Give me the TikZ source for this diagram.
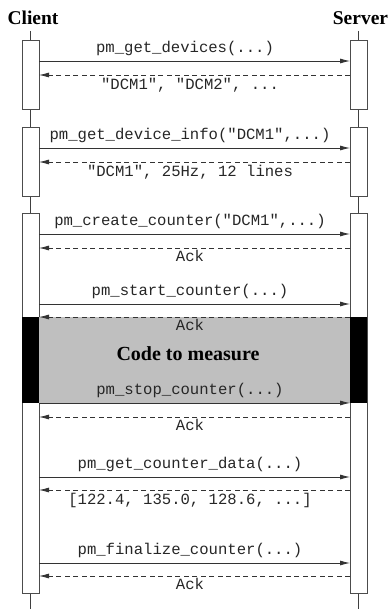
\documentclass[tikz,border=0pt]{standalone}
\usepackage{fontspec}
\setmainfont{Liberation Serif}
\newfontfamily\lblfont{Liberation Mono}
\usetikzlibrary{arrows.meta,calc}
\begin{document}
\begin{tikzpicture}[x=1pt,y=1pt,
  actor/.style={font=\fontsize{19.5}{22}\selectfont\bfseries, inner sep=0pt},
  lifeline/.style={line width=0.8pt, draw=black!75},
  actbox/.style={draw=black!70, line width=0.9pt, fill=white, inner sep=0pt, outer sep=0pt, minimum width=17pt},
  call/.style={line width=0.8pt, draw=black!80, -{Latex[length=10pt,width=5pt]}},
  reply/.style={line width=0.8pt, draw=black!80, dash pattern=on 5pt off 3.5pt, -{Latex[length=10pt,width=5pt]}},
  msglbl/.style={font=\lblfont\fontsize{15.6}{18}\selectfont, text=black!85, inner sep=0pt, anchor=base},
  codelbl/.style={font=\fontsize{20}{24}\selectfont\bfseries, inner sep=0pt, anchor=base}
]
\useasboundingbox (0,0) rectangle (389,-609);

% actors
\node[actor, anchor=base] (client) at (33,-24.3) {Client};
\node[actor, anchor=base] (server) at (360.5,-24.3) {Server};

% lifelines
\coordinate (cl0) at (30.5,-31);
\coordinate (cl1) at (30.5,-609);
\coordinate (sl0) at (358.5,-31);
\coordinate (sl1) at (358.5,-609);
\draw[lifeline] (cl0) -- (cl1);
\draw[lifeline] (sl0) -- (sl1);

% activation boxes
\node[actbox, minimum height=69pt] (cb1) at (30.5,-74.5) {};
\node[actbox, minimum height=69pt] (sb1) at (358.5,-74.5) {};
\node[actbox, minimum height=69pt] (cb2) at (30.5,-161.5) {};
\node[actbox, minimum height=69pt] (sb2) at (358.5,-161.5) {};
\node[actbox, minimum height=380pt] (cb3) at (30.5,-403) {};
\node[actbox, minimum height=380pt] (sb3) at (358.5,-403) {};

% measured region
\node[fill=black!25, inner sep=0pt, minimum width=311pt, minimum height=86pt] (region) at (194.5,-360) {};
\node[fill=black, inner sep=0pt, minimum width=17pt, minimum height=86pt] (cblk) at (30.5,-360) {};
\node[fill=black, inner sep=0pt, minimum width=17pt, minimum height=86pt] (sblk) at (358.5,-360) {};
\node[codelbl] (code) at (188,-360.7) {Code to measure};

% messages
\foreach \i/\yc/\yr in {1/61/75, 2/148/162, 3/234/248, 4/304/317, 5/403/417, 6/477/490, 7/563/576}{
  \coordinate (c\i a) at (39,-\yc);
  \coordinate (c\i b) at (350,-\yc);
  \coordinate (r\i a) at (350,-\yr);
  \coordinate (r\i b) at (39,-\yr);
  \draw[call] (c\i a) -- (c\i b);
  \draw[reply] (r\i a) -- (r\i b);
}

\node[msglbl] (l1c) at ([xshift=-9.5pt,yshift=8.5pt]$(c1a)!0.5!(c1b)$) {pm\_get\_devices(...)};
\node[msglbl] (l1r) at ([xshift=-4.5pt,yshift=-14.5pt]$(r1a)!0.5!(r1b)$) {"DCM1", "DCM2", ...};
\node[msglbl] (l2c) at ([xshift=-4.5pt,yshift=8.5pt]$(c2a)!0.5!(c2b)$) {pm\_get\_device\_info("DCM1",...)};
\node[msglbl] (l2r) at ([xshift=-4.5pt,yshift=-14.5pt]$(r2a)!0.5!(r2b)$) {"DCM1", 25Hz, 12 lines};
\node[msglbl] (l3c) at ([xshift=-4.5pt,yshift=8.5pt]$(c3a)!0.5!(c3b)$) {pm\_create\_counter("DCM1",...)};
\node[msglbl] (l3r) at ([xshift=-4.5pt,yshift=-13.7pt]$(r3a)!0.5!(r3b)$) {Ack};
\node[msglbl] (l4c) at ([xshift=-4.5pt,yshift=8.5pt]$(c4a)!0.5!(c4b)$) {pm\_start\_counter(...)};
\node[msglbl] (l4r) at ([xshift=-4.5pt,yshift=-13.7pt]$(r4a)!0.5!(r4b)$) {Ack};
\node[msglbl] (l5c) at ([xshift=-4.5pt,yshift=8.5pt]$(c5a)!0.5!(c5b)$) {pm\_stop\_counter(...)};
\node[msglbl] (l5r) at ([xshift=-4.5pt,yshift=-13.7pt]$(r5a)!0.5!(r5b)$) {Ack};
\node[msglbl] (l6c) at ([xshift=-4.5pt,yshift=8.5pt]$(c6a)!0.5!(c6b)$) {pm\_get\_counter\_data(...)};
\node[msglbl] (l6r) at ([xshift=-4.5pt,yshift=-14.5pt]$(r6a)!0.5!(r6b)$) {[122.4, 135.0, 128.6, ...]};
\node[msglbl] (l7c) at ([xshift=-4.5pt,yshift=8.5pt]$(c7a)!0.5!(c7b)$) {pm\_finalize\_counter(...)};
\node[msglbl] (l7r) at ([xshift=-4.5pt,yshift=-13.7pt]$(r7a)!0.5!(r7b)$) {Ack};
\end{tikzpicture}
\end{document}
